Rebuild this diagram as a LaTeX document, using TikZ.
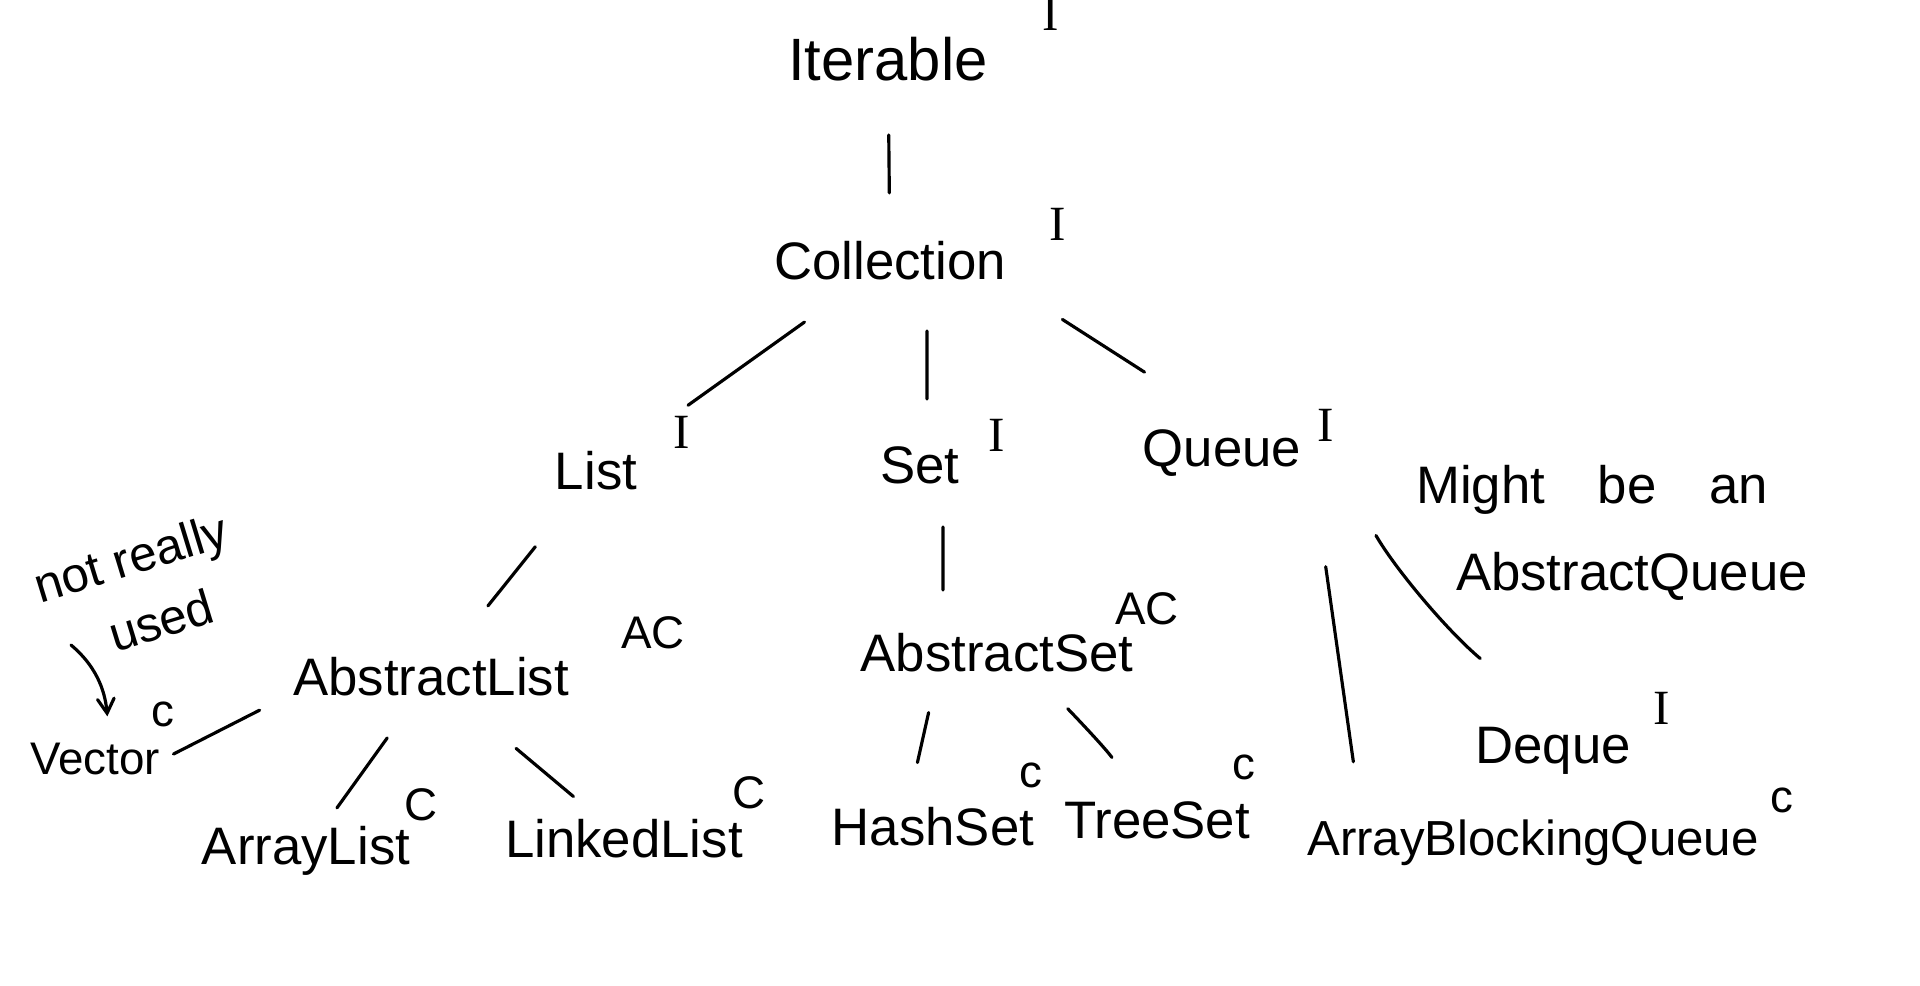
\documentclass[tikz,border=0pt]{standalone}
\usepackage{fontspec}
\setmainfont{Liberation Sans}
\newfontfamily\tagserif{Liberation Serif}
\usepackage{tikz}
\usetikzlibrary{arrows,calc}
\tikzset{
    cls/.style={
           font=\fontsize{15}{18}\selectfont,
           inner sep=2pt,
           },
    tag/.style={
           font=\fontsize{13}{15}\selectfont,
           inner sep=2pt,
           },
    itag/.style={
           tag,
           font=\tagserif\fontsize{14}{16}\selectfont,
           },
    remark/.style={
           font=\fontsize{14}{17}\selectfont,
           inner sep=1pt,
           },
    link/.style={
           -,
           line width=0.9pt,
           line cap=round,
           },
    pointer/.style={
           ->,
           >=angle 60,
           line width=0.9pt,
           line cap=round,
           }
}

\begin{document}
\begin{tikzpicture}[x=0.01cm,y=0.01cm]
\useasboundingbox (0,0) rectangle (1920,-986);
% interfaces at the top
\node[cls,font=\fontsize{17}{20}\selectfont] (iter) at (888,-59) {Iterable};
\node[itag] (iterT) at (1051,-14) {I};
\node[cls] (coll) at (890,-261) {Collection};
\node[itag] (collT) at (1058,-224) {I};
\node[cls] (list) at (596,-471) {List};
\node[itag] (listT) at (682,-432) {I};
\node[cls] (set) at (920,-465) {Set};
\node[itag] (setT) at (997,-435) {I};
\node[cls] (queue) at (1222,-453) {Queue};
\node[itag] (queueT) at (1326,-425) {I};
% abstract classes
\node[cls] (alist) at (431,-677) {AbstractList};
\node[tag] (alistT) at (653,-633) {AC};
\node[cls] (aset) at (997,-653) {AbstractSet};
\node[tag] (asetT) at (1147,-609) {AC};
% classes
\node[cls,font=\fontsize{13}{16}\selectfont] (vector) at (95,-759) {Vector};
\node[tag] (vectorT) at (163,-714) {c};
\node[cls] (arrlist) at (306,-851) {ArrayList};
\node[tag] (arrlistT) at (421,-805) {C};
\node[cls] (linked) at (624,-839) {LinkedList};
\node[tag] (linkedT) at (749,-793) {C};
\node[cls] (hash) at (933,-827) {HashSet};
\node[tag] (hashT) at (1031,-775) {c};
\node[cls] (tree) at (1157,-820) {TreeSet};
\node[tag] (treeT) at (1244,-767) {c};
\node[cls] (deque) at (1553,-751) {Deque};
\node[itag] (dequeT) at (1662,-708) {I};
\node[cls,font=\fontsize{14}{17}\selectfont] (abq) at (1533,-843) {ArrayBlockingQueue};
\node[tag] (abqT) at (1782,-800) {c};
% side notes
\node[remark,rotate=17] (notreally) at (132,-562) {not really};
\node[remark,rotate=17] (used) at (161,-620) {used};
\node[remark,font=\fontsize{15}{18}\selectfont] (might) at (1592,-490) {Might\quad be\quad an};
\node[cls] (absqueue) at (1632,-576) {AbstractQueue};
\coordinate (noteTail) at (71,-645);

\path (iter.center) edge[link, shorten <=0.76cm, shorten >=0.68cm] (coll.center);
\path (coll.center) edge[link, shorten <=1.05cm, shorten >=1.13cm] (list.center);
\path ([xshift=0.37cm]coll.center) edge[link, shorten <=0.70cm, shorten >=0.66cm] ([xshift=0.07cm]set.center);
\path (coll.south east) edge[link, shorten <=0.58cm, shorten >=0.92cm] (queue.north);
\path (list.center) edge[link, shorten <=0.97cm, shorten >=0.91cm] (alist.center);
\path ([yshift=-0.2cm]alist.west) edge[link, shorten <=0.29cm, shorten >=0.88cm] ([yshift=-0.35cm]vector.center);
\path (alist.center) edge[link, shorten <=0.75cm, shorten >=0.53cm] (arrlist.center);
\path (alist.center) edge[link, shorten <=1.11cm, shorten >=0.66cm] (linked.center);
\path ([xshift=0.23cm]set.center) edge[link, shorten <=0.62cm, shorten >=0.63cm] ([xshift=-0.54cm]aset.center);
\path ([xshift=-0.55cm]aset.center) edge[link, shorten <=0.61cm, shorten >=0.66cm] ([xshift=-0.30cm]hash.center);
\path (aset.center) edge[link, bend left=8, shorten <=0.90cm, shorten >=0.77cm] (tree.center);
\path ([xshift=-0.17cm]queueT.south) edge[link, shorten <=1.19cm, shorten >=0.51cm] ([xshift=0.61cm]abq.north west);
\path (queueT.south) edge[link, bend right=10, shorten <=1.0cm, shorten >=0.95cm] (deque.north);
\draw[pointer, shorten >=0.19cm] (noteTail) to[out=-40,in=95] ([xshift=0.14cm]vector.north);
\end{tikzpicture}
\end{document}
